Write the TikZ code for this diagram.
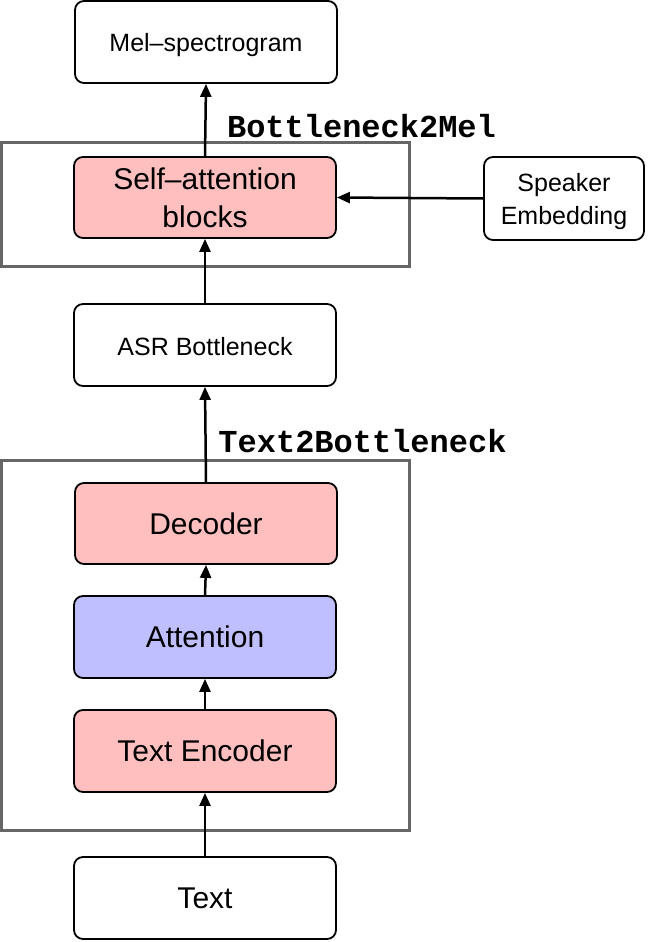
\documentclass[tikz,border=0pt]{standalone}
\usepackage{fontspec}
\setmainfont{Liberation Sans}
\newfontfamily\codefont{Liberation Mono}
\usetikzlibrary{arrows.meta}
\definecolor{pinkfill}{HTML}{FFBFBF}
\definecolor{bluefill}{HTML}{BFBFFF}
\definecolor{framegray}{HTML}{666666}
\tikzset{
  blk/.style={draw=black, line width=1.8pt, rounded corners=9pt, minimum width=262pt, minimum height=82pt, inner sep=0pt, align=center, fill=white},
  bigtxt/.style={font=\fontsize{30}{38}\selectfont},
  smalltxt/.style={font=\fontsize{25}{34}\selectfont},
  frame/.style={draw=framegray, line width=3pt},
  arr/.style={-{Triangle[length=13pt,width=11pt]}, line width=2.5pt, draw=black},
  lbl/.style={font=\codefont\bfseries\fontsize{32}{36}\selectfont, inner sep=0pt, anchor=base}
}
\begin{document}
\begin{tikzpicture}[x=1pt,y=-1pt]
\useasboundingbox (0,0) rectangle (648,942);
\draw[frame] (1.5,142) rectangle (409.5,266);
\draw[frame] (1.5,460) rectangle (409.5,830);
\node[blk, smalltxt] (mel) at (206,42) {\raisebox{-3pt}[\height][\depth]{Mel–spectrogram}};
\node[blk, bigtxt, fill=pinkfill, minimum height=81pt] (sa) at (205,197.5) {Self–attention\\blocks};
\node[blk, smalltxt, minimum width=160pt, minimum height=83pt] (spk) at (564,198.5) {\raisebox{-3pt}[\height][\depth]{\begin{tabular}{@{}c@{}}Speaker\\[-1pt]Embedding\end{tabular}}};
\node[blk, smalltxt] (asr) at (205,345) {\raisebox{-1.5pt}[\height][\depth]{ASR Bottleneck}};
\node[blk, bigtxt, fill=pinkfill, minimum height=81pt] (dec) at (206,523.5) {Decoder};
\node[blk, bigtxt, fill=bluefill] (att) at (205,637) {Attention};
\node[blk, bigtxt, fill=pinkfill] (enc) at (205,751) {Text Encoder};
\node[blk, bigtxt] (txt) at (205,898) {Text};
\node[lbl] (l1) at (361.5,137) {Bottleneck2Mel};
\node[lbl] (l2) at (362.5,452) {Text2Bottleneck};
\draw[arr] (sa.north) -- (mel.south);
\draw[arr] (spk.west) -- (sa.east);
\draw[arr] (asr.north) -- (sa.south);
\draw[arr] (dec.north) -- (asr.south);
\draw[arr] (att.north) -- (dec.south);
\draw[arr] (enc.north) -- (att.south);
\draw[arr] (txt.north) -- (enc.south);
\end{tikzpicture}
\end{document}
